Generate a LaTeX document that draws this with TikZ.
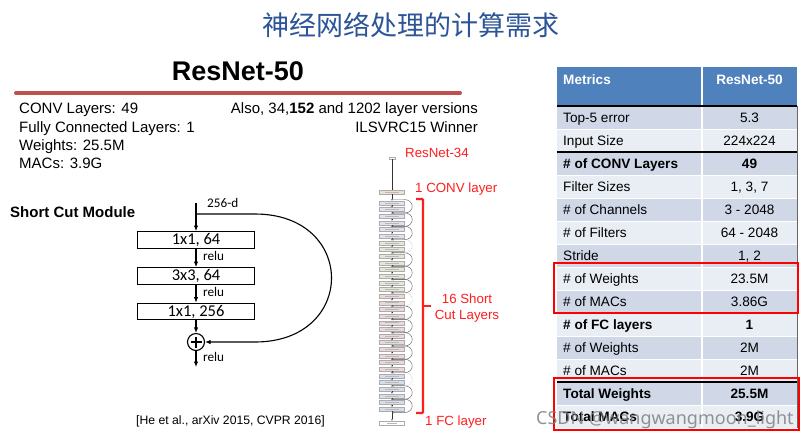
\documentclass[tikz,border=0pt]{standalone}
\usepackage{fontspec}
\setmainfont{Liberation Sans}
\newfontfamily\cjk{Noto Sans CJK SC}
\newfontfamily\carlito{Carlito}
\newfontfamily\wmfont{Noto Sans}
\usetikzlibrary{arrows.meta}
\definecolor{titleblue}{RGB}{44,84,152}
\definecolor{hdrblue}{RGB}{79,129,189}
\definecolor{rowdark}{RGB}{208,216,232}
\definecolor{rowlight}{RGB}{233,237,244}
\definecolor{ulred}{RGB}{192,80,77}
\definecolor{annred}{RGB}{255,30,30}
\definecolor{cc64}{RGB}{226,226,236}
\definecolor{cc128}{RGB}{226,232,212}
\definecolor{cc256}{RGB}{236,216,216}
\definecolor{cc512}{RGB}{214,222,236}
\definecolor{ccconv}{RGB}{240,224,210}
\begin{document}
\begin{tikzpicture}[x=1pt,y=-1pt,
  body/.style={font=\fontsize{15}{18}\selectfont, inner sep=0},
  blk/.style={draw, line width=1.2, minimum width=117, minimum height=16.5, inner sep=0, font=\carlito\fontsize{16.5}{16.5}\selectfont},
  lbl/.style={font=\carlito\fontsize{13.2}{14}\selectfont, inner sep=0},
  arr/.style={line width=1.1, -{Latex[length=5.5pt,width=4.5pt]}},
  r34/.style={draw=gray!65, line width=0.4, minimum width=25, minimum height=4, inner sep=0},
  r34line/.style={line width=0.5, black!80, -{Latex[length=1.5pt,width=1.5pt]}},
  arcsolid/.style={line width=0.45, black!60, -{Latex[length=1.5pt,width=1.5pt]}},
  arcdot/.style={line width=0.45, black!40, densely dotted, -{Latex[length=1.5pt,width=1.5pt]}},
  ann/.style={font=\fontsize{13.3}{15.5}\selectfont, text=annred, inner sep=0},
  tl/.style={font=\fontsize{13.6}{16}\selectfont, anchor=base west, inner sep=0},
  tr/.style={font=\fontsize{13.6}{16}\selectfont, anchor=base, inner sep=0},
  redbox/.style={draw=red, line width=2.5}
]
\useasboundingbox (0,0) rectangle (810,440);
\fill[white] (0,0) rectangle (810,440);

% title
\node[font=\cjk\fontsize{27}{30}\selectfont, text=titleblue, inner sep=0] (title) at (411,25) {神经网络处理的计算需求};

% ResNet-50 heading
\node[font=\bfseries\fontsize{27}{30}\selectfont, anchor=base, inner sep=0] (rn50) at (238,80) {ResNet-50};
\draw[ulred, line width=4, line cap=round] (16,93) -- (460,93);

% left facts
\node[body, anchor=base west] (f1) at (19,113) {CONV Layers: 49};
\node[body, anchor=base west] (f2) at (19,132) {Fully Connected Layers: 1};
\node[body, anchor=base west] (f3) at (19,150) {Weights: 25.5M};
\node[body, anchor=base west] (f4) at (19,168) {MACs: 3.9G};
\node[body, anchor=base east] (f5) at (478,113) {Also, 34,\textbf{152} and 1202 layer versions};
\node[body, anchor=base east] (f6) at (478,132) {ILSVRC15 Winner};

% short cut module
\node[font=\bfseries\fontsize{15}{18}\selectfont, anchor=base west, inner sep=0] (scm) at (10,217) {Short Cut Module};
\coordinate (in) at (196,203);
\coordinate (br) at (196,214);
\node[blk] (b1) at (196,240) {1x1, 64};
\node[blk] (b2) at (196,276) {3x3, 64};
\node[blk] (b3) at (196,311.5) {1x1, 256};
\node[circle, draw, line width=1.1, minimum size=17, inner sep=0] (sum) at (196,342) {};
\draw[line width=1.1] ([xshift=-5.5pt]sum.center) -- ([xshift=5.5pt]sum.center);
\draw[line width=1.1] ([yshift=-5.5pt]sum.center) -- ([yshift=5.5pt]sum.center);
\coordinate (out) at (196,367);
\draw[arr] (in) -- (b1);
\draw[arr] (b1) -- (b2);
\draw[arr] (b2) -- (b3);
\draw[arr] (b3) -- (sum);
\draw[arr] (sum) -- (out);
\draw[arr] (br) -- (255,214) .. controls (357,214) and (357,342) .. (255,342) -- (sum.east);
\node[lbl, anchor=west] (d256) at (207,203) {256-d};
\node[lbl, anchor=west] (r1) at (203,256) {relu};
\node[lbl, anchor=west] (r2) at (203,292) {relu};
\node[lbl, anchor=west] (r3) at (203,357) {relu};

\node[font=\fontsize{12.2}{14}\selectfont, anchor=west, inner sep=0] (cite) at (136,421) {[He et al., arXiv 2015, CVPR 2016]};

% ResNet-34 column
\node[r34, fill=white, minimum width=6, minimum height=2] (img) at (392,158) {};
\node[r34, fill=ccconv] (conv1) at (392,192) {};
\draw[gray!55, line width=0.6] ([xshift=-7pt]conv1.center) -- ([xshift=7pt]conv1.center);
\foreach \k in {0,...,31}{
  \ifnum\k<6 \def\cc{cc64}\else\ifnum\k<14 \def\cc{cc128}\else\ifnum\k<26 \def\cc{cc256}\else\def\cc{cc512}\fi\fi\fi
  \node[r34, fill=\cc] (L\k) at (392,{203+\k*6.65}) {};
  \draw[gray!55, line width=0.6] ([xshift=-7pt]L\k.center) -- ([xshift=7pt]L\k.center);
}
\node[r34, fill=white] (fc) at (392,423) {};
\draw[gray!55, line width=0.6] ([xshift=-5pt]fc.center) -- ([xshift=5pt]fc.center);
\draw[line width=0.5, black!80] (img) -- (conv1);
\draw[r34line] (conv1) -- (L0);
\foreach \k [evaluate=\k as \n using int(\k+1)] in {0,...,30}{
  \draw[r34line] (L\k) -- (L\n);
}
\draw[r34line] (L31) -- (fc);
\foreach \p in {0,1,2,4,5,6,8,9,10,11,12,14,15}{
  \pgfmathtruncatemacro\a{2*\p}\pgfmathtruncatemacro\b{2*\p+1}
  \draw[arcsolid] ([yshift=1.3pt]L\a.north) -- ++(12,0) .. controls +(11,0) and +(11,0) .. ([xshift=12pt,yshift=-1.3pt]L\b.south) -- ([yshift=-1.3pt]L\b.south);
}
\foreach \p in {3,7,13}{
  \pgfmathtruncatemacro\a{2*\p}\pgfmathtruncatemacro\b{2*\p+1}
  \draw[arcdot] ([yshift=1.3pt]L\a.north) -- ++(12,0) .. controls +(11,0) and +(11,0) .. ([xshift=12pt,yshift=-1.3pt]L\b.south) -- ([yshift=-1.3pt]L\b.south);
}
% red bracket and labels
\draw[annred, line width=2.3, rounded corners=1] (416,199) -- (423,199) -- (423,413) -- (416,413);
\draw[annred, line width=2.3] (423,306) -- (431,306);
\node[ann, anchor=west] (a1) at (405,153) {ResNet-34};
\node[ann, anchor=west] (a2) at (415,189) {1 CONV layer};
\node[ann, align=center] (a3) at (467,308) {16 Short\\Cut Layers};
\node[ann, anchor=west] (a4) at (425,422) {1 FC layer};

% table
\fill[hdrblue] (557,67) rectangle (797,106);
\foreach \i in {0,...,13}{
  \ifodd\i \def\rc{rowlight}\else\def\rc{rowdark}\fi
  \fill[\rc] (557,{106+23*\i}) rectangle (797,{129+23*\i});
}
\foreach \i in {1,...,13}{
  \draw[white, line width=1] (557,{106+23*\i}) -- (797,{106+23*\i});
}
\draw[white, line width=1.5] (702,67) -- (702,428);
\draw[black, line width=2] (557,106) -- (797,106);
\draw[black, line width=1.5] (557,152) -- (797,152);
\draw[black, line width=2] (557,382) -- (797,382);
\draw[gray!80!black, line width=1] (797,106) -- (797,428);

\node[tl, text=white, font=\bfseries\fontsize{13.6}{16}\selectfont] (h1) at (563,84) {Metrics};
\node[tr, text=white, font=\bfseries\fontsize{13.6}{16}\selectfont] (h2) at (749.5,84) {ResNet-50};

\node[tl] (l0) at (563,122.5) {Top-5 error};          \node[tr] (v0) at (749.5,122.5) {5.3};
\node[tl] (l1) at (563,145.5) {Input Size};           \node[tr] (v1) at (749.5,145.5) {224x224};
\node[tl, font=\bfseries\fontsize{13.6}{16}\selectfont] (l2) at (563,168.5) {\# of CONV Layers}; \node[tr, font=\bfseries\fontsize{13.6}{16}\selectfont] (v2) at (749.5,168.5) {49};
\node[tl] (l3) at (563,191.5) {Filter Sizes};         \node[tr] (v3) at (749.5,191.5) {1, 3, 7};
\node[tl] (l4) at (563,214.5) {\# of Channels};       \node[tr] (v4) at (749.5,214.5) {3 - 2048};
\node[tl] (l5) at (563,237.5) {\# of Filters};        \node[tr] (v5) at (749.5,237.5) {64 - 2048};
\node[tl] (l6) at (563,260.5) {Stride};               \node[tr] (v6) at (749.5,260.5) {1, 2};
\node[tl] (l7) at (563,283.5) {\# of Weights};        \node[tr] (v7) at (749.5,283.5) {23.5M};
\node[tl] (l8) at (563,306.5) {\# of MACs};           \node[tr] (v8) at (749.5,306.5) {3.86G};
\node[tl, font=\bfseries\fontsize{13.6}{16}\selectfont] (l9) at (563,329.5) {\# of FC layers}; \node[tr, font=\bfseries\fontsize{13.6}{16}\selectfont] (v9) at (749.5,329.5) {1};
\node[tl] (l10) at (563,352.5) {\# of Weights};       \node[tr] (v10) at (749.5,352.5) {2M};
\node[tl] (l11) at (563,375.5) {\# of MACs};          \node[tr] (v11) at (749.5,375.5) {2M};
\node[tl, font=\bfseries\fontsize{13.6}{16}\selectfont] (l12) at (563,398.5) {Total Weights}; \node[tr, font=\bfseries\fontsize{13.6}{16}\selectfont] (v12) at (749.5,398.5) {25.5M};
\node[tl, font=\bfseries\fontsize{13.6}{16}\selectfont] (l13) at (563,421.5) {Total MACs}; \node[tr, font=\bfseries\fontsize{13.6}{16}\selectfont] (v13) at (749.5,421.5) {3.9G};

\draw[redbox] (554,263) rectangle (798,313);
\draw[redbox] (554,378) rectangle (799,430);

% watermark
\node[font=\wmfont\fontsize{18}{20}\selectfont, text=gray, opacity=0.85, anchor=base west, inner sep=0] (wm) at (536,424) {CSDN @wangwangmoon\_light};
\end{tikzpicture}
\end{document}
